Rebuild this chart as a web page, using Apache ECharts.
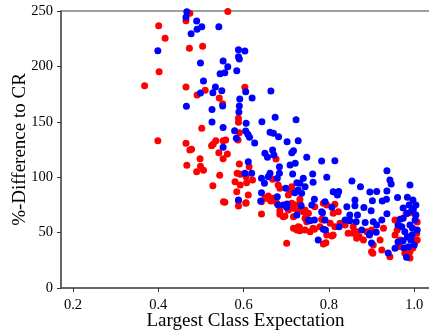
<!DOCTYPE html>
<html>
<head>
<meta charset="utf-8">
<script src="https://cdn.jsdelivr.net/npm/echarts@6/dist/echarts.min.js"></script>
<style>
html,body{margin:0;padding:0;background:#fff;}
#c{width:429px;height:331px;}
</style>
</head>
<body>
<div id="c"></div>
<script>
const xTicks = [0.2, 0.4, 0.6, 0.8, 1.0];
const yTicks = [0, 50, 100, 150, 200, 250];
const xTitle = 'Largest Class Expectation';
const yTitle = '%-Difference to CR';

const redPoints = [
[0.401,236.7],[0.416,225.4],[0.402,195.2],[0.368,182.6],[0.465,181.4],[0.399,132.9],[0.465,130.6],[0.474,124.5],
[0.467,110.7],[0.465,241.2],[0.474,247.9],[0.473,216.3],[0.504,218.1],[0.563,249.5],[0.491,174.2],[0.510,178.4],
[0.543,171.5],[0.551,166.3],[0.603,181.1],[0.588,153.2],[0.588,149.5],[0.502,144.1],[0.590,140.2],[0.587,133.6],
[0.529,130.0],[0.525,128.4],[0.535,132.9],[0.552,132.9],[0.558,133.6],[0.478,125.2],[0.542,122.1],[0.562,120.9],
[0.498,116.7],[0.552,116.7],[0.499,109.8],[0.490,105.0],[0.506,106.2],[0.544,101.7],[0.528,92.3],[0.553,77.9],
[0.590,111.9],[0.613,109.5],[0.585,103.5],[0.592,102.6],[0.606,100.5],[0.580,95.9],[0.592,93.0],[0.607,95.0],
[0.621,97.5],[0.668,98.1],[0.676,116.4],[0.642,77.9],[0.588,74.0],[0.606,77.0],[0.642,66.8],[0.656,81.0],
[0.664,78.5],[0.658,83.0],[0.674,79.4],[0.678,76.4],[0.685,69.8],[0.705,83.9],[0.685,90.0],[0.713,76.4],
[0.717,71.9],[0.732,76.4],[0.740,68.9],[0.693,64.3],[0.717,53.9],[0.725,52.3],[0.731,54.8],[0.701,40.3],
[0.556,77.3],[0.584,86.9],[0.611,83.9],[0.588,78.8],[0.605,76.4],[0.650,81.0],[0.670,81.0],[0.681,93.0],
[0.713,91.4],[0.709,86.9],[0.705,70.4],[0.685,66.5],[0.697,65.0],[0.720,74.9],[0.727,69.8],[0.744,70.4],
[0.717,64.3],[0.752,67.4],[0.748,59.8],[0.783,62.0],[0.732,51.7],[0.728,55.3],[0.766,53.0],[0.756,50.8],
[0.779,55.3],[0.795,74.9],[0.814,75.5],[0.822,68.9],[0.810,67.4],[0.787,61.4],[0.803,58.4],[0.814,55.3],
[0.826,58.4],[0.838,56.9],[0.857,55.3],[0.865,50.8],[0.889,50.8],[0.900,52.3],[0.928,53.9],[0.795,47.8],
[0.810,47.8],[0.845,49.4],[0.865,44.9],[0.881,43.3],[0.904,38.8],[0.920,43.3],[0.787,39.7],[0.900,32.8],
[0.924,34.3],[0.943,28.2],[0.967,37.3],[0.955,61.4],[0.981,66.8],[0.998,67.4],[1.006,49.4],[1.002,41.8],
[0.960,52.3],[0.955,47.8],[0.967,43.3],[0.978,31.3],[0.990,32.8],[0.732,80.1],[0.767,73.4],[0.787,76.4],
[0.744,62.9],[0.763,53.9],[0.744,52.3],[0.807,46.9],[0.793,40.9],[0.903,31.3],[0.856,49.4],[0.871,46.3],
[0.990,27.1],[0.997,36.1],[1.007,59.6],[1.007,43.3]
];

const bluePoints = [
[0.399,214.2],[0.466,164.0],[0.467,249.4],[0.465,244.3],[0.477,229.5],[0.490,241.0],[0.502,235.8],[0.491,233.5],
[0.542,235.8],[0.499,203.1],[0.552,204.9],[0.563,199.7],[0.545,193.4],[0.556,194.3],[0.506,186.8],[0.499,176.0],
[0.534,181.4],[0.549,178.1],[0.528,176.3],[0.551,164.3],[0.526,161.1],[0.588,215.1],[0.603,213.9],[0.588,208.8],
[0.590,206.7],[0.584,196.1],[0.605,177.2],[0.664,177.8],[0.591,170.6],[0.620,171.5],[0.590,164.3],[0.589,158.8],
[0.674,154.1],[0.723,151.9],[0.526,149.8],[0.606,148.6],[0.643,150.1],[0.552,144.9],[0.579,142.0],[0.605,141.7],
[0.610,138.7],[0.614,136.0],[0.662,140.5],[0.670,139.6],[0.682,136.6],[0.583,135.1],[0.702,132.0],[0.728,132.9],
[0.626,130.9],[0.552,127.0],[0.668,124.5],[0.717,123.9],[0.650,121.6],[0.656,118.0],[0.671,120.0],[0.684,109.5],
[0.684,103.5],[0.679,99.0],[0.713,122.1],[0.748,118.0],[0.709,111.0],[0.721,112.5],[0.715,102.9],[0.642,86.0],
[0.588,79.4],[0.679,82.4],[0.699,90.0],[0.693,74.9],[0.702,75.8],[0.725,95.0],[0.732,94.5],[0.728,88.4],
[0.720,86.0],[0.736,85.5],[0.740,99.0],[0.744,91.4],[0.725,65.9],[0.752,61.4],[0.611,114.0],[0.603,103.5],
[0.619,103.5],[0.658,100.5],[0.642,99.0],[0.649,94.5],[0.662,103.5],[0.762,102.9],[0.763,95.4],[0.640,78.5],
[0.681,74.9],[0.701,72.8],[0.735,74.3],[0.760,74.9],[0.783,68.9],[0.756,60.7],[0.766,61.4],[0.787,53.0],
[0.775,43.3],[0.783,114.6],[0.814,114.9],[0.795,99.9],[0.854,96.6],[0.874,91.4],[0.936,105.9],[0.943,97.5],
[0.946,93.9],[0.990,93.0],[0.810,86.9],[0.817,86.0],[0.823,87.1],[0.820,83.9],[0.791,77.9],[0.861,79.4],
[0.861,74.3],[0.842,73.4],[0.896,86.6],[0.912,87.1],[0.936,87.5],[0.902,78.7],[0.925,78.5],[0.935,80.1],
[0.961,81.7],[0.984,81.9],[0.998,71.0],[0.807,72.8],[0.882,72.7],[0.899,69.8],[0.785,68.0],[0.849,65.9],
[0.867,65.9],[0.864,59.8],[0.885,59.1],[0.838,61.4],[0.824,55.3],[0.877,52.3],[0.904,59.8],[0.912,56.9],
[0.924,61.4],[0.936,67.1],[0.896,49.4],[0.911,50.3],[0.792,52.3],[0.900,40.7],[0.939,31.6],[0.967,62.0],
[0.974,62.9],[0.984,67.4],[0.994,69.8],[1.002,61.4],[0.990,56.9],[0.971,55.3],[0.978,50.8],[0.996,53.9],
[0.984,46.3],[0.992,43.3],[0.974,42.7],[0.986,37.3],[0.955,35.8],[0.982,27.7],[0.766,80.1],[0.791,61.4],
[0.849,60.7],[0.895,47.8],[0.997,79.4],[1.004,74.9],[1.004,65.9],[0.995,47.8],[1.000,38.8],[0.962,41.5],
[0.976,36.1],[1.007,52.3],[0.988,74.9],[0.974,72.2],[0.962,56.9]
];

const FONT = '"Liberation Serif", "DejaVu Serif", serif';
const chart = echarts.init(document.getElementById('c'), null, {renderer: 'canvas'});
chart.setOption({
  animation: false,
  backgroundColor: '#fff',
  grid: {left: 61, top: 11, width: 369, height: 277, show: true, borderColor: '#808080', borderWidth: 1.5,
         containLabel: false, outerBoundsMode: 'none'},
  xAxis: {
    type: 'value', min: 0.172, max: 1.037,
    splitLine: {show: false},
    axisLine: {show: true, onZero: false, lineStyle: {color: '#555', width: 1.5}},
    axisTick: {show: true, length: 4, customValues: xTicks, lineStyle: {color: '#333'}},
    axisLabel: {customValues: xTicks, formatter: v => v.toFixed(1), color: '#000', fontFamily: FONT, fontSize: 14.5, margin: 10},
    name: xTitle, nameLocation: 'middle', nameGap: 24, nameMoveOverlap: false,
    nameTextStyle: {color: '#000', fontFamily: FONT, fontSize: 19, verticalAlign: 'top'}
  },
  yAxis: {
    type: 'value', min: 0, max: 250, interval: 50,
    splitLine: {show: false},
    axisLine: {show: true, onZero: false, lineStyle: {color: '#555', width: 1.5}},
    axisTick: {show: true, length: 4, lineStyle: {color: '#333'}},
    axisLabel: {customValues: yTicks, color: '#000', fontFamily: FONT, fontSize: 14.5, margin: 8},
    name: yTitle, nameLocation: 'middle', nameGap: 31, nameRotate: 90, nameMoveOverlap: false,
    nameTextStyle: {color: '#000', fontFamily: FONT, fontSize: 19}
  },
  series: [
    {type: 'scatter', data: redPoints, symbolSize: 7, itemStyle: {color: '#ff0000', opacity: 1}, clip: true},
    {type: 'scatter', data: bluePoints, symbolSize: 7, itemStyle: {color: '#0000ff', opacity: 1}, clip: true}
  ]
});
</script>
</body>
</html>
